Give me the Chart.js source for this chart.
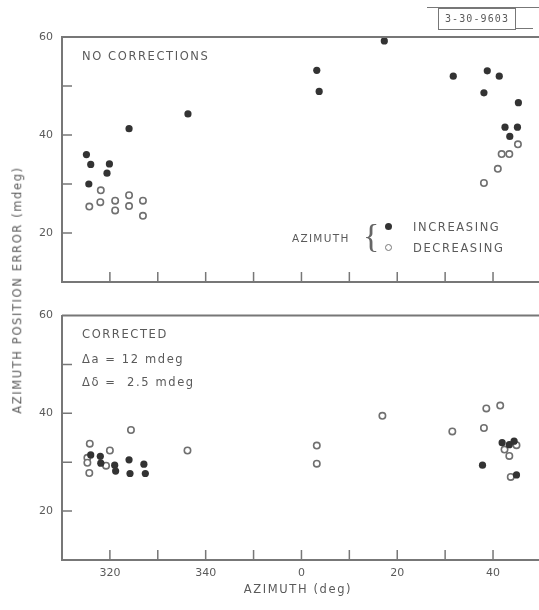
<!DOCTYPE html>
<html>
<head>
<meta charset="utf-8">
<script src="https://cdn.jsdelivr.net/npm/chart.js@4.4.1/dist/chart.umd.min.js"></script>
<style>
  body { margin: 0; background: #fff; }
  #wrap { position: relative; width: 539px; height: 610px; overflow: hidden; font-family: "DejaVu Sans", sans-serif; color: #5a5a5a; }
  canvas { position: absolute; left: 0; }
  .txt { position: absolute; white-space: nowrap; font-size: 11.5px; letter-spacing: 1.6px; line-height: 1; }
  #ylabel { left: 18px; top: 290px; transform: translate(-50%, -50%) rotate(-90deg); }
  #xlabel { left: 298px; top: 590px; transform: translate(-50%, -50%); }
  .dot { position: absolute; width: 7px; height: 7px; border-radius: 50%; box-sizing: border-box; }
  #tag { position: absolute; left: 438px; top: 8px; width: 78px; height: 22px; border: 1.5px solid #777; box-sizing: border-box;
         font-family: "DejaVu Sans Mono", monospace; font-size: 10px; letter-spacing: 1.1px; text-align: center; line-height: 19px; }
  .rule { position: absolute; height: 0; border-top: 1.5px solid #777; }
</style>
</head>
<body>
<div id="wrap">
  <canvas id="top" width="539" height="300" style="top:0"></canvas>
  <canvas id="bottom" width="539" height="300" style="top:300px"></canvas>

  <div class="rule" style="left:427px; top:7px; width:112px;"></div>
  <div id="tag">3-30-9603</div>
  <div class="rule" style="left:515px; top:28px; width:18px;"></div>

  <div class="txt" id="ylabel">AZIMUTH POSITION ERROR (mdeg)</div>
  <div class="txt" id="xlabel">AZIMUTH (deg)</div>

  <div class="txt" style="left:82px; top:51px;">NO CORRECTIONS</div>

  <div class="txt" style="left:292px; top:233px; font-size:10.5px; letter-spacing:1.3px;">AZIMUTH</div>
  <div class="txt" style="left:363px; top:219px; font-size:34px; letter-spacing:0; color:#666; font-family:'Liberation Serif', serif;">{</div>
  <div class="dot" style="left:385px; top:223px; background:#333;"></div>
  <div class="dot" style="left:385px; top:244px; border:1.5px solid #777; background:#fff;"></div>
  <div class="txt" style="left:413px; top:222px;">INCREASING</div>
  <div class="txt" style="left:413px; top:243px;">DECREASING</div>

  <div class="txt" style="left:82px; top:329px;">CORRECTED</div>
  <div class="txt" style="left:82px; top:354px;">Δa = 12 mdeg</div>
  <div class="txt" style="left:82px; top:377px;">Δδ =&nbsp; 2.5 mdeg</div>
</div>

<script>
// azimuth (deg), error in mdeg
const topIncAz = [315.1, 316.0, 315.6, 319.4, 319.9, 324.0, 336.3, 3.2, 3.7, 17.3, 31.7, 38.1, 38.8, 41.3, 42.5, 43.5, 45.1, 45.3];
const topIncErr = [36.0, 34.0, 30.0, 32.2, 34.1, 41.3, 44.3, 53.2, 48.9, 59.2, 52.0, 48.6, 53.1, 52.0, 41.6, 39.7, 41.6, 46.6];

const topDecAz = [315.7, 318.1, 318.0, 321.1, 321.1, 324.0, 324.0, 326.9, 326.9, 38.1, 41.0, 41.8, 43.4, 45.2];
const topDecErr = [25.4, 28.7, 26.3, 26.6, 24.6, 27.7, 25.5, 26.6, 23.5, 30.2, 33.1, 36.1, 36.1, 38.1];

const botIncAz = [316.0, 318.0, 318.1, 321.0, 321.2, 324.0, 324.2, 327.1, 327.4, 37.8, 41.9, 43.4, 44.4, 44.9];
const botIncErr = [31.5, 31.2, 29.8, 29.4, 28.2, 30.5, 27.7, 29.6, 27.7, 29.4, 34.0, 33.6, 34.3, 27.4];

const botDecAz = [315.8, 315.3, 315.3, 315.7, 319.2, 320.0, 324.4, 336.2, 3.2, 3.2, 16.9, 31.5, 38.1, 38.6, 41.5, 42.4, 43.4, 44.9, 43.7];
const botDecErr = [33.8, 30.9, 29.9, 27.8, 29.3, 32.4, 36.6, 32.4, 33.4, 29.7, 39.5, 36.3, 37.0, 41.0, 41.6, 32.6, 31.3, 33.5, 27.0];

const xTickLabels = [320, 340, 0, 20, 40];
const yTickLabels = [20, 40, 60];

const axisColor = "#777";

// azimuth wraps through 0, keep it continuous on the axis
function toPoints(az, err) {
  return az.map((a, i) => ({ x: a < 180 ? a + 360 : a, y: err[i] }));
}

function xTicks() {
  const t = [];
  for (let v = 310; v <= 400; v += 10) t.push({ value: v });
  return t;
}

const framePlugin = {
  id: "frame",
  afterDraw(chart) {
    const ctx = chart.ctx;
    const area = chart.chartArea;
    const xs = chart.scales.x;
    const ys = chart.scales.y;
    ctx.save();
    ctx.strokeStyle = axisColor;
    ctx.lineWidth = 2;
    ctx.beginPath();
    ctx.moveTo(area.left, area.top);
    ctx.lineTo(area.right, area.top);
    ctx.stroke();
    ctx.lineWidth = 1.5;
    ctx.beginPath();
    for (let v = 20; v <= 50; v += 10) {
      const py = ys.getPixelForValue(v);
      ctx.moveTo(area.left, py);
      ctx.lineTo(area.left + 10, py);
    }
    for (let v = 320; v <= 400; v += 10) {
      const px = xs.getPixelForValue(v);
      ctx.moveTo(px, area.bottom);
      ctx.lineTo(px, area.bottom - 10);
    }
    ctx.stroke();
    ctx.restore();
  }
};

function makePanel(id, incAz, incErr, decAz, decErr, showX) {
  new Chart(document.getElementById(id), {
    type: "scatter",
    data: {
      datasets: [
        {
          label: "Increasing",
          data: toPoints(incAz, incErr),
          pointRadius: 3.6,
          backgroundColor: "#333",
          borderColor: "#333",
          borderWidth: 0
        },
        {
          label: "Decreasing",
          data: toPoints(decAz, decErr),
          pointRadius: 3.2,
          backgroundColor: "#fff",
          borderColor: "#707070",
          borderWidth: 1.6
        }
      ]
    },
    options: {
      responsive: false,
      animation: false,
      layout: { autoPadding: false, padding: { top: showX ? 15 : 37, left: 0, right: 0, bottom: 0 } },
      plugins: { legend: { display: false }, tooltip: { enabled: false } },
      scales: {
        x: {
          type: "linear",
          min: 310,
          max: 409.6,
          grid: { drawOnChartArea: false, drawTicks: false },
          border: { color: axisColor, width: 2 },
          afterBuildTicks: s => { s.ticks = xTicks(); },
          ticks: {
            display: showX,
            autoSkip: false,
            maxRotation: 0,
            padding: 7,
            color: "#5a5a5a",
            font: { family: "DejaVu Sans", size: 11 },
            callback: v => xTickLabels.includes(v % 360) ? String(v % 360) : ""
          },
          afterFit: s => { s.height = showX ? 40 : 18; }
        },
        y: {
          min: 10,
          max: 60,
          grid: { drawOnChartArea: false, drawTicks: false },
          border: { color: axisColor, width: 2 },
          ticks: {
            stepSize: 10,
            padding: 9,
            color: "#5a5a5a",
            font: { family: "DejaVu Sans", size: 11 },
            callback: v => yTickLabels.includes(v) ? String(v) : ""
          },
          afterFit: s => { s.width = 62; }
        }
      }
    },
    plugins: [framePlugin]
  });
}

makePanel("top", topIncAz, topIncErr, topDecAz, topDecErr, false);
makePanel("bottom", botIncAz, botIncErr, botDecAz, botDecErr, true);
</script>
</body>
</html>
